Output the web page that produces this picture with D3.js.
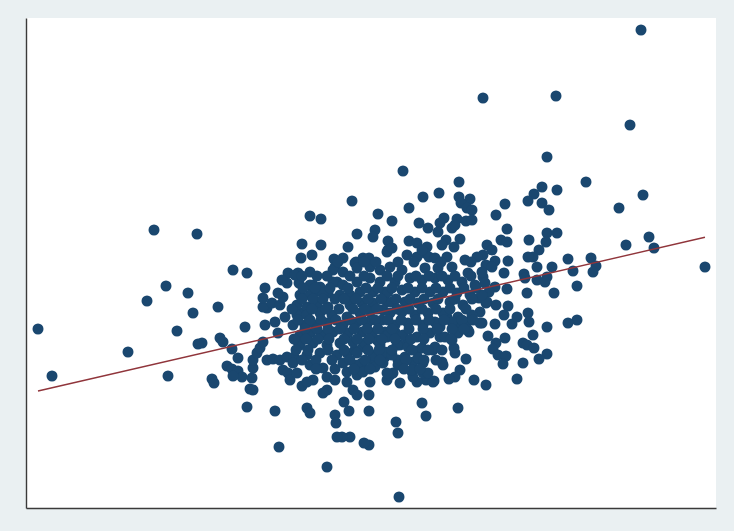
<!DOCTYPE html>
<html>
<head>
<meta charset="utf-8">
<script src="https://cdn.jsdelivr.net/npm/d3@7/dist/d3.min.js"></script>
<style>
  html, body { margin: 0; padding: 0; background: #eaf0f2; }
  svg { display: block; }
</style>
</head>
<body>
<svg id="chart" width="734" height="531"></svg>
<script>
// Observations (x, y) on the chart's own scale
const observations = [
  [615,478],[457,410],[530,412],[604,383],[521,351],[377,337],[433,326],[560,326],[617,313],[593,300],
  [326,307],[284,292],[295,289],[128,278],[171,274],[331,274],[276,264],[295,263],[322,261],[275,250],
  [286,253],[308,249],[330,246],[337,250],[413,315],[397,311],[433,311],[444,309],[435,305],[352,294],
  [383,300],[441,300],[446,298],[366,287],[418,290],[414,285],[393,285],[402,280],[431,289],[440,287],
  [446,288],[426,280],[429,283],[349,278],[347,271],[362,267],[383,267],[391,265],[412,276],[420,268],
  [434,269],[416,263],[428,261],[401,261],[399,255],[381,253],[391,251],[403,251],[343,250],[421,251],
  [329,245],[362,258],[516,321],[531,318],[508,314],[502,307],[516,305],[523,298],[479,304],[470,293],
  [481,279],[475,268],[481,266],[503,268],[521,275],[531,275],[520,266],[461,263],[466,258],[457,253],
  [513,258],[507,251],[502,251],[542,249],[565,250],[482,247],[469,247],[460,243],[466,241],[511,241],
  [526,241],[547,237],[570,242],[567,236],[478,235],[498,234],[499,230],[511,228],[521,231],[519,226],
  [457,231],[459,225],[469,221],[481,219],[551,222],[528,215],[501,215],[463,216],[600,263],[623,271],
  [628,260],[679,241],[551,188],[542,185],[521,181],[502,195],[503,186],[507,173],[497,165],[501,163],
  [508,160],[521,154],[513,149],[497,145],[491,129],[460,123],[482,202],[470,203],[460,205],[456,185],
  [469,184],[478,193],[486,184],[491,191],[462,172],[470,165],[479,170],[467,159],[472,153],[480,152],
  [477,144],[448,128],[440,149],[434,138],[429,131],[423,129],[432,100],[417,143],[429,155],[428,160],
  [430,181],[426,168],[408,127],[400,128],[396,105],[400,92],[370,86],[372,75],[373,11],[343,63],
  [343,97],[343,113],[344,126],[374,125],[391,126],[361,128],[454,185],[454,196],[443,176],[441,186],
  [453,210],[461,206],[318,106],[323,97],[324,71],[316,71],[338,65],[364,133],[407,126],[416,146],
  [331,133],[321,126],[327,118],[331,113],[347,148],[359,151],[357,145],[367,135],[336,145],[386,136],
  [387,131],[397,135],[387,146],[397,145],[407,158],[391,157],[381,165],[374,163],[372,148],[414,171],
  [434,183],[442,178],[446,193],[432,191],[421,191],[414,181],[321,155],[329,158],[337,161],[351,168],
  [361,171],[369,176],[192,201],[219,181],[176,165],[194,170],[197,166],[206,159],[212,150],[201,142],
  [206,139],[212,137],[216,131],[207,132],[186,129],[188,125],[224,119],[227,118],[221,101],[249,97],
  [253,61],[281,100],[284,95],[226,130],[227,140],[227,148],[231,155],[234,160],[237,166],[241,148],
  [247,149],[254,148],[261,151],[268,151],[257,138],[262,135],[264,128],[276,122],[287,128],[291,140],
  [301,118],[297,115],[309,93],[310,85],[311,71],[241,200],[239,183],[249,186],[259,191],[252,175],
  [267,183],[274,195],[272,166],[281,153],[237,201],[246,205],[254,203],[207,238],[221,235],[12,179],
  [26,132],[102,156],[121,207],[140,222],[162,215],[167,195],[151,177],[172,164],[142,132],[301,41],
  [261,225],[239,220],[257,211],[237,210],[272,235],[262,235],[256,228],[273,225],[252,215],[287,223],
  [289,216],[302,215],[309,241],[311,226],[274,213],
  // dense centre
  [317,250],[361,256],[307,238],[317,236],[331,240],[344,241],[354,238],[269,233],[284,236],[284,223],
  [294,221],[307,226],[317,223],[331,226],[344,230],[354,226],[284,213],[297,215],[314,213],[324,213],
  [334,216],[347,216],[359,216],[271,203],[281,201],[291,203],[302,201],[324,203],[336,205],[347,205],
  [361,206],[271,193],[281,193],[294,195],[306,193],[321,191],[334,195],[344,196],[357,198],[279,183],
  [289,183],[301,185],[317,183],[331,186],[342,186],[356,188],[274,173],[284,175],[297,173],[307,176],
  [322,175],[336,176],[346,175],[359,176],[274,163],[287,165],[301,163],[314,165],[327,166],[339,165],
  [354,163],[294,155],[311,153],[331,155],[347,153],[359,156],[267,145],[284,143],[297,140],[317,145],
  [331,143],[271,135],[301,131],[321,136],[337,136],[349,141],[361,135],[281,126],[309,128],
  [366,260],[396,258],[409,250],[439,248],[451,251],[456,236],[364,241],[376,238],[399,240],[412,240],
  [426,241],[442,235],[369,226],[384,230],[396,228],[409,230],[422,228],[436,226],[449,223],[362,216],
  [376,218],[389,216],[404,216],[417,216],[431,215],[444,213],[456,213],[366,206],[379,206],[392,205],
  [407,205],[424,206],[437,203],[364,195],[376,196],[389,193],[402,195],[417,195],[369,183],[382,185],
  [397,183],[409,186],[426,186],[362,173],[377,173],[391,171],[404,175],[419,171],[432,175],[371,163],
  [382,161],[396,160],[409,161],[366,153],[379,151],[392,150],[372,143],[386,138],[402,135],
  [312,246],[338,246],[350,246],[372,246],[388,246],[415,246],[445,246],
  [276,232],[291,232],[301,232],[324,232],[338,232],[361,232],[372,232],[390,232],[403,232],[416,232],
  [429,232],[445,232],
  [277,220],[289,220],[304,220],[322,220],[340,220],[352,220],[366,220],[382,220],[396,220],[410,220],
  [424,220],[438,220],[450,220],
  [276,209],[287,209],[297,209],[309,209],[318,209],[330,209],[342,209],[355,209],[370,209],[384,209],
  [398,209],[412,209],[429,209],[446,209],
  [266,199],[286,199],[300,199],[313,199],[327,199],[339,199],[351,199],[371,199],[383,199],[396,199],
  [410,199],[424,199],[440,199],
  [272,188],[284,188],[295,188],[310,188],[324,188],[336,188],[349,188],[362,188],[375,188],[390,188],
  [403,188],[418,188],[436,188],[447,188],
  [279,179],[291,179],[302,179],[314,179],[328,179],[341,179],[352,179],[366,179],[383,179],[397,179],
  [411,179],[426,179],[438,179],
  [268,169],[280,169],[292,169],[303,169],[318,169],[331,169],[343,169],[356,169],[369,169],[385,169],
  [398,169],[425,169],
  [270,158],[282,158],[302,158],[318,158],[342,158],[353,158],[366,158],[386,158],[402,158],[416,158],
  [276,148],[290,148],[306,148],[324,148],[339,148],[354,148],[380,148],[398,148],[410,148],
  [290,139],[309,139],[328,139],[344,139],[378,139],[394,139]
];

// Linear fit coefficients
const fitIntercept = 114.2;
const fitSlope = 0.2305;

const xDomain = [0, 690];
const yDomain = [0, 490];

const svg = d3.select("#chart");
const plot = { left: 26, top: 18, right: 716, bottom: 508 };

const x = d3.scaleLinear().domain(xDomain).range([plot.left, plot.right]);
const y = d3.scaleLinear().domain(yDomain).range([plot.bottom, plot.top]);

// plot region
svg.append("rect")
  .attr("x", plot.left).attr("y", plot.top)
  .attr("width", plot.right - plot.left).attr("height", plot.bottom - plot.top)
  .attr("fill", "#ffffff");

// markers
svg.append("g")
  .selectAll("circle")
  .data(observations)
  .join("circle")
  .attr("cx", d => x(d[0]))
  .attr("cy", d => y(d[1]))
  .attr("r", 5.5)
  .attr("fill", "#1a476f");

// fitted line across the range of x
const xExt = d3.extent(observations, d => d[0]);
const fitPts = xExt.map(v => [v, fitIntercept + fitSlope * v]);
svg.append("path")
  .datum(fitPts)
  .attr("fill", "none")
  .attr("stroke", "#90353b")
  .attr("stroke-width", 1.4)
  .attr("d", d3.line().x(d => x(d[0])).y(d => y(d[1])));

// axes: plain lines, no ticks or labels
const axisStyle = g => {
  g.selectAll(".domain").attr("stroke", "#3a3a3a").attr("stroke-width", 1.4);
};
svg.append("g")
  .attr("transform", `translate(${plot.left},0)`)
  .call(d3.axisLeft(y).tickValues([]).tickSizeOuter(0))
  .call(axisStyle);
svg.append("g")
  .attr("transform", `translate(0,${plot.bottom})`)
  .call(d3.axisBottom(x).tickValues([]).tickSizeOuter(0))
  .call(axisStyle);
</script>
</body>
</html>
